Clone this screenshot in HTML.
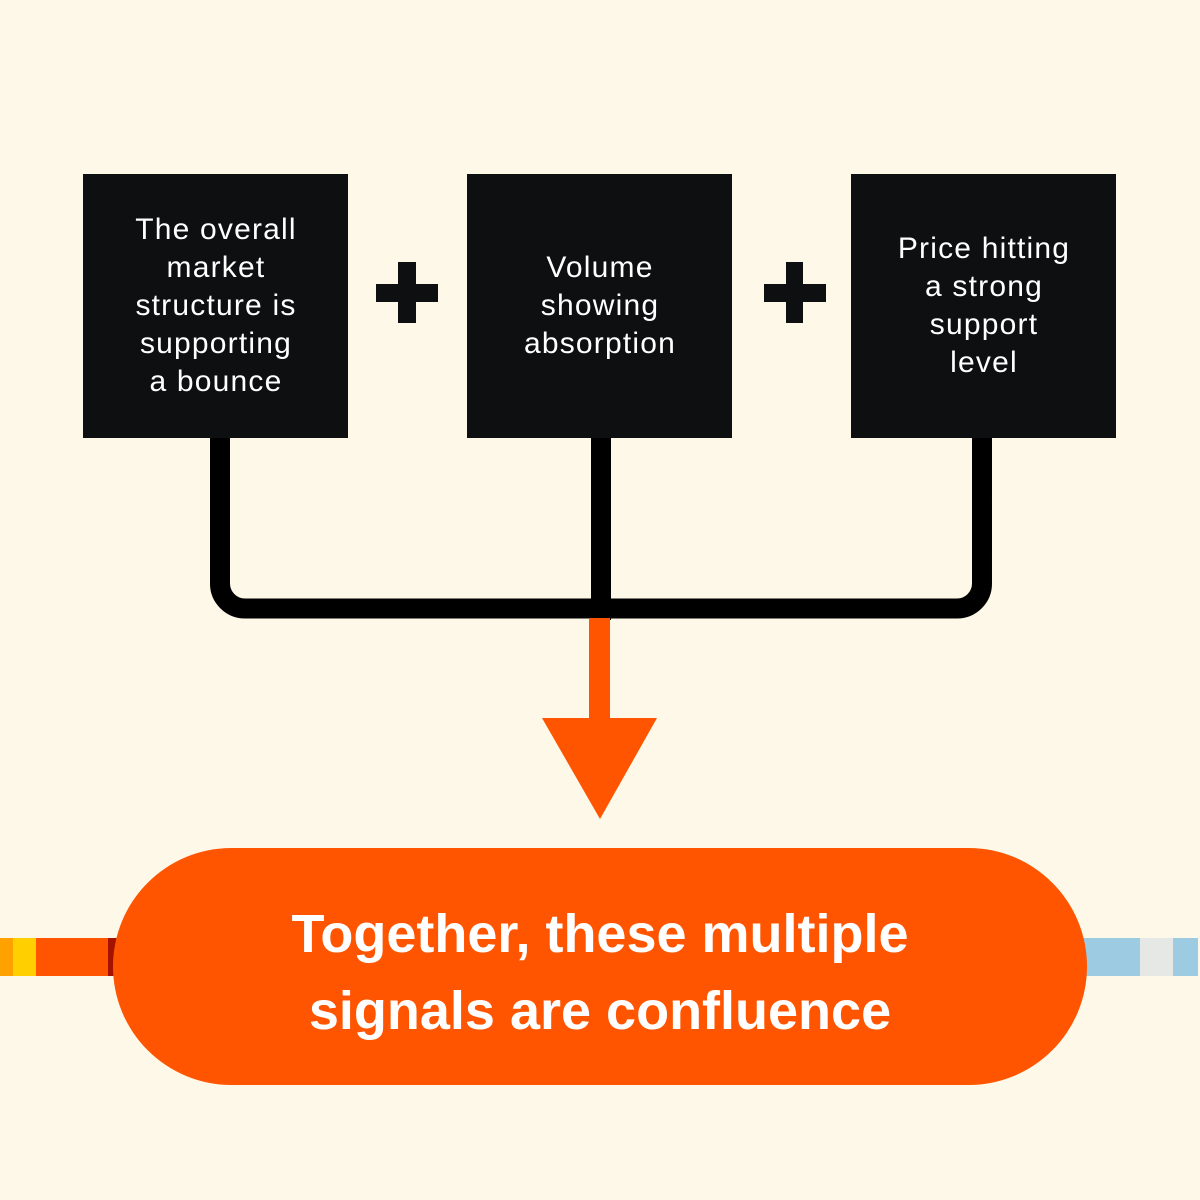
<!DOCTYPE html>
<html>
<head>
<meta charset="utf-8">
<style>
html,body{margin:0;padding:0;background:#FEF8E8;}
svg{display:block;}
</style>
</head>
<body>
<svg width="1200" height="1200" viewBox="0 0 1200 1200" xmlns="http://www.w3.org/2000/svg">
<rect x="0" y="0" width="1200" height="1200" fill="#FEF8E8"/>

<!-- side strips -->
<rect x="0" y="938" width="13" height="38" fill="#FFA200"/>
<rect x="13" y="938" width="23" height="38" fill="#FFCF00"/>
<rect x="36" y="938" width="72" height="38" fill="#FF5500"/>
<rect x="108" y="938" width="10" height="38" fill="#A51200"/>
<rect x="1080" y="938" width="60" height="38" fill="#9DCBE2"/>
<rect x="1140" y="938" width="33" height="38" fill="#E6E8E5"/>
<rect x="1173" y="938" width="25" height="38" fill="#9DCBE2"/>

<!-- connectors -->
<path d="M220 430 V583 A25 25 0 0 0 245 608.5 H957 A25 25 0 0 0 982 583 V430" fill="none" stroke="#000" stroke-width="20"/>
<rect x="591" y="430" width="20" height="190" fill="#000"/>

<!-- orange arrow -->
<rect x="589" y="618" width="21" height="104" fill="#FF5500"/>
<polygon points="542,718 657,718 600,819" fill="#FF5500"/>

<!-- boxes -->
<rect x="83" y="174" width="265" height="264" fill="#0E0F10"/>
<rect x="467" y="174" width="265" height="264" fill="#0E0F10"/>
<rect x="851" y="174" width="265" height="264" fill="#0E0F10"/>

<!-- plus signs -->
<rect x="376" y="284" width="62" height="18" fill="#0E0F10"/>
<rect x="398" y="262" width="18" height="61" fill="#0E0F10"/>
<rect x="764" y="284" width="62" height="18" fill="#0E0F10"/>
<rect x="786" y="262" width="17" height="61" fill="#0E0F10"/>

<!-- box text -->
<g font-family="'Liberation Sans', sans-serif" font-size="30" fill="#FFFFFF" text-anchor="middle" letter-spacing="1.2">
  <text x="216" y="239">The overall</text>
  <text x="216" y="277">market</text>
  <text x="216" y="315">structure is</text>
  <text x="216" y="353">supporting</text>
  <text x="216" y="391">a bounce</text>

  <text x="600" y="277">Volume</text>
  <text x="600" y="315">showing</text>
  <text x="600" y="353">absorption</text>

  <text x="984" y="258">Price hitting</text>
  <text x="984" y="296">a strong</text>
  <text x="984" y="334">support</text>
  <text x="984" y="372">level</text>
</g>

<!-- pill -->
<rect x="113" y="848" width="974" height="237" rx="118.5" ry="118.5" fill="#FF5500"/>
<g font-family="'Liberation Sans', sans-serif" font-size="54" font-weight="bold" fill="#FFFFFF" text-anchor="middle">
  <text x="600" y="952">Together, these multiple</text>
  <text x="600" y="1029">signals are confluence</text>
</g>
</svg>
</body>
</html>
